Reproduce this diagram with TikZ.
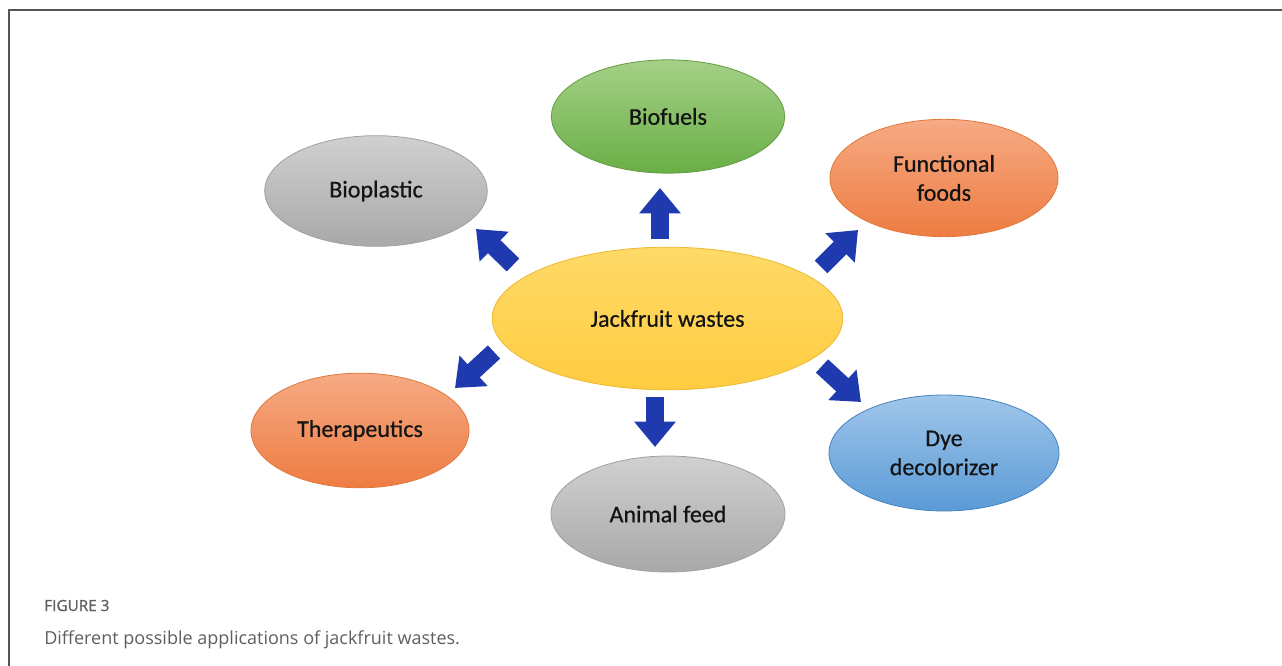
\documentclass[tikz,border=0pt]{standalone}
\usepackage{fontspec}
\setmainfont{Carlito}
\newfontfamily\labelfont{Carlito}[FakeBold=0.6]
\newfontfamily\capfont{Open Sans}
\newfontfamily\capheadfont{Open Sans}[FakeBold=0.8]
\usetikzlibrary{shapes.geometric,arrows.meta}

\definecolor{framegray}{RGB}{85,85,85}
\definecolor{captiongray}{RGB}{95,95,95}
\definecolor{arrowblue}{RGB}{30,58,174}
\definecolor{grayT}{RGB}{208,208,208}
\definecolor{grayB}{RGB}{168,168,168}
\definecolor{grayD}{RGB}{160,160,160}
\definecolor{greenT}{RGB}{164,208,134}
\definecolor{greenB}{RGB}{106,175,70}
\definecolor{greenD}{RGB}{100,155,70}
\definecolor{orangeT}{RGB}{246,170,132}
\definecolor{orangeB}{RGB}{238,124,66}
\definecolor{orangeD}{RGB}{222,120,60}
\definecolor{yellowT}{RGB}{255,218,104}
\definecolor{yellowB}{RGB}{255,204,64}
\definecolor{yellowD}{RGB}{235,185,50}
\definecolor{blueT}{RGB}{160,198,234}
\definecolor{blueB}{RGB}{90,154,214}
\definecolor{blueD}{RGB}{70,130,190}

\tikzset{
  use/.style={ellipse, inner sep=0pt, align=center, line width=0.6pt,
    text=black!92, font=\labelfont\fontsize{18}{21.75}\selectfont},
  grayuse/.style={use, draw=grayD, top color=grayT, bottom color=grayB},
  greenuse/.style={use, draw=greenD, top color=greenT, bottom color=greenB},
  orangeuse/.style={use, draw=orangeD, top color=orangeT, bottom color=orangeB},
  yellowuse/.style={use, draw=yellowD, top color=yellowT, bottom color=yellowB},
  blueuse/.style={use, draw=blueD, top color=blueT, bottom color=blueB},
  pointer/.style={draw=arrowblue, line width=13.5pt,
    -{Triangle[length=19pt, width=30pt, color=arrowblue]}},
}

\begin{document}
\begin{tikzpicture}[x=0.75pt,y=0.75pt,yscale=-1,xscale=1]
\useasboundingbox (0,0) rectangle (1282,666);

%Frame
\draw [color=framegray, line width=1.2pt] (9,666) -- (9,10) -- (1282,10) ;

%Centre
\node [yellowuse, minimum width=263pt, minimum height=107pt] (jack) at (667.5,318.5) {Jackfruit wastes};

%Applications
\node [grayuse, minimum width=167pt, minimum height=83pt] (plastic) at (376,191) {Bioplastic};
\node [greenuse, minimum width=175pt, minimum height=85pt] (fuel) at (668,116.5) {Biofuels};
\node [orangeuse, minimum width=171pt, minimum height=88pt] (food) at (944,178) {Functional\\foods};
\node [orangeuse, minimum width=163.5pt, minimum height=86pt] (thera) at (360,430.5) {Therapeutics};
\node [grayuse, minimum width=175.5pt, minimum height=87pt] (feed) at (668,514) {Animal feed};
\node [blueuse, minimum width=172.5pt, minimum height=87pt] (dye) at (944,453) {Dye\\decolorizer};

%Arrow ends
\coordinate (plasticA) at (513,265);
\coordinate (plasticB) at (476,229);
\coordinate (fuelA) at (660,239);
\coordinate (fuelB) at (660,188);
\coordinate (foodA) at (821,267);
\coordinate (foodB) at (858,230);
\coordinate (theraA) at (494,352);
\coordinate (theraB) at (455,388);
\coordinate (feedA) at (655,397);
\coordinate (feedB) at (655,447);
\coordinate (dyeA) at (822,366);
\coordinate (dyeB) at (861,402);

\foreach \t in {plastic,fuel,food,thera,feed,dye}
  \draw [pointer] (\t A) -- (\t B) ;

% Caption
\node [anchor=base west, inner sep=0pt, font=\capheadfont\fontsize{11.5}{12}\selectfont, text=captiongray] (figno) at (44,611) {FIGURE 3};
\node [anchor=base west, inner sep=0pt, font=\capfont\fontsize{13.5}{15}\selectfont, text=captiongray] (caption) at (44,644) {Different possible applications of jackfruit wastes.};

\end{tikzpicture}
\end{document}
